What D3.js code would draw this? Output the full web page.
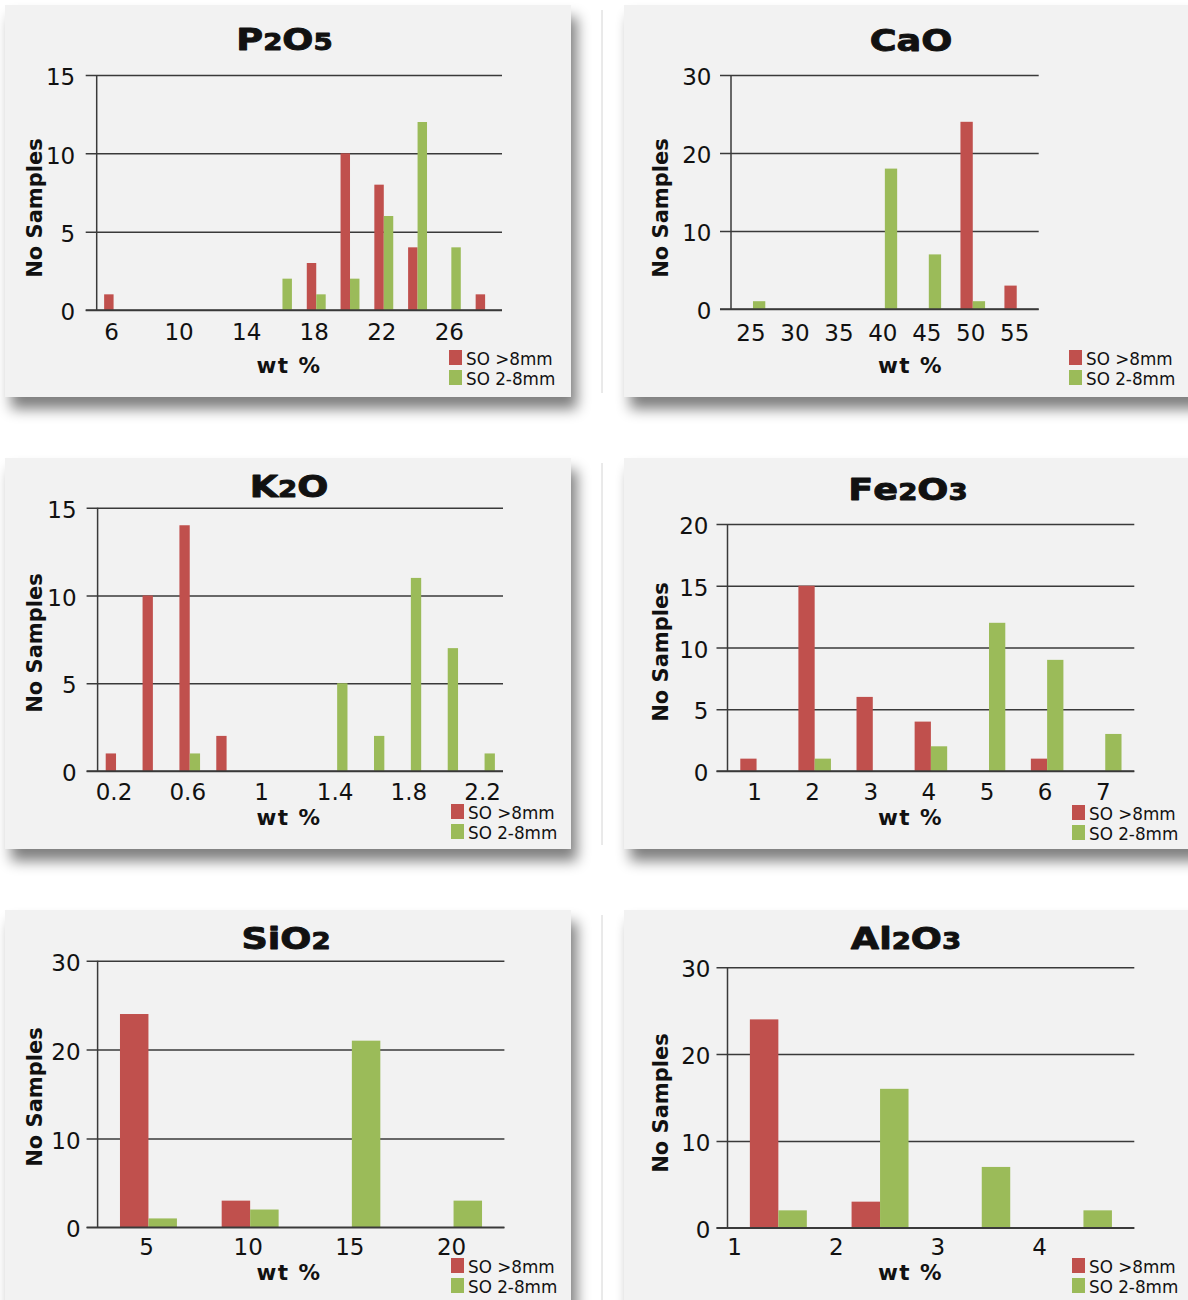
<!DOCTYPE html>
<html>
<head>
<meta charset="utf-8">
<script src="https://cdn.jsdelivr.net/npm/d3@7"></script>
<style>
  html, body { margin: 0; padding: 0; background: #ffffff; }
  svg { display: block; }
</style>
</head>
<body>
<svg id="chart" width="1188" height="1300"></svg>
<script>
// ---- Series ----
const seriesNames = ["SO >8mm", "SO 2-8mm"];
const seriesColors = ["#c0504d", "#9bbb59"];

// ---- P2O5 ----
const p2o5Bins   = ["6", "8", "10", "12", "14", "16", "18", "20", "22", "24", "26", "28"];
const p2o5Coarse = [1, 0, 0, 0, 0, 0, 3, 10, 8, 4, 0, 1];
const p2o5Fine   = [0, 0, 0, 0, 0, 2, 1, 2, 6, 12, 4, 0];
const p2o5Labels = ["6", "10", "14", "18", "22", "26"];
const p2o5Ticks  = [0, 5, 10, 15];

// ---- CaO ----
const caoBins   = ["25", "30", "35", "40", "45", "50", "55"];
const caoCoarse = [0, 0, 0, 0, 0, 24, 3];
const caoFine   = [1, 0, 0, 18, 7, 1, 0];
const caoLabels = ["25", "30", "35", "40", "45", "50", "55"];
const caoTicks  = [0, 10, 20, 30];

// ---- K2O ----
const k2oBins   = ["0.2", "0.4", "0.6", "0.8", "1", "1.2", "1.4", "1.6", "1.8", "2", "2.2"];
const k2oCoarse = [1, 10, 14, 2, 0, 0, 0, 0, 0, 0, 0];
const k2oFine   = [0, 0, 1, 0, 0, 0, 5, 2, 11, 7, 1];
const k2oLabels = ["0.2", "0.6", "1", "1.4", "1.8", "2.2"];
const k2oTicks  = [0, 5, 10, 15];

// ---- Fe2O3 ----
const fe2o3Bins   = ["1", "2", "3", "4", "5", "6", "7"];
const fe2o3Coarse = [1, 15, 6, 4, 0, 1, 0];
const fe2o3Fine   = [0, 1, 0, 2, 12, 9, 3];
const fe2o3Labels = ["1", "2", "3", "4", "5", "6", "7"];
const fe2o3Ticks  = [0, 5, 10, 15, 20];

// ---- SiO2 ----
const sio2Bins   = ["5", "10", "15", "20"];
const sio2Coarse = [24, 3, 0, 0];
const sio2Fine   = [1, 2, 21, 3];
const sio2Labels = ["5", "10", "15", "20"];
const sio2Ticks  = [0, 10, 20, 30];

// ---- Al2O3 ----
const al2o3Bins   = ["1", "2", "3", "4"];
const al2o3Coarse = [24, 3, 0, 0];
const al2o3Fine   = [2, 16, 7, 2];
const al2o3Labels = ["1", "2", "3", "4"];
const al2o3Ticks  = [0, 10, 20, 30];

// Panel placement on the page (card origin, plot box, text anchors)
const panels = [
  { title: "P2O5", bins: p2o5Bins, coarse: p2o5Coarse, fine: p2o5Fine, labels: p2o5Labels, ticks: p2o5Ticks,
    card: [5, 5, 566, 392], plot: [96.7, 75, 502, 310], titlePos: [284.5, 50],
    yTitle: [41.5, 208], xTitle: [289, 373], legend: [449, 350], yGap: 21.5, xDy: 29.5, edgeLabels: false },
  { title: "CaO", bins: caoBins, coarse: caoCoarse, fine: caoFine, labels: caoLabels, ticks: caoTicks,
    card: [624, 5, 600, 392], plot: [731, 75, 1038.7, 309], titlePos: [911, 51],
    yTitle: [667.5, 208], xTitle: [910.5, 373], legend: [1069, 350], yGap: 19.5, xDy: 32, edgeLabels: false },
  { title: "K2O", bins: k2oBins, coarse: k2oCoarse, fine: k2oFine, labels: k2oLabels, ticks: k2oTicks,
    card: [5, 458, 566, 391], plot: [97.6, 507.7, 503, 771], titlePos: [289, 497],
    yTitle: [41.5, 643], xTitle: [289, 825], legend: [451, 804], yGap: 21, xDy: 29, edgeLabels: false },
  { title: "Fe2O3", bins: fe2o3Bins, coarse: fe2o3Coarse, fine: fe2o3Fine, labels: fe2o3Labels, ticks: fe2o3Ticks,
    card: [624, 458, 600, 391], plot: [727.5, 524, 1134.3, 771], titlePos: [908, 500],
    yTitle: [667.5, 652], xTitle: [910.5, 825], legend: [1072, 805], yGap: 19, xDy: 29, edgeLabels: false },
  { title: "SiO2", bins: sio2Bins, coarse: sio2Coarse, fine: sio2Fine, labels: sio2Labels, ticks: sio2Ticks,
    card: [5, 910, 566, 420], plot: [97.6, 960.7, 504.4, 1227.3], titlePos: [286, 949],
    yTitle: [41.5, 1097], xTitle: [289, 1280], legend: [451, 1258], yGap: 17, xDy: 27.5, edgeLabels: false },
  { title: "Al2O3", bins: al2o3Bins, coarse: al2o3Coarse, fine: al2o3Fine, labels: al2o3Labels, ticks: al2o3Ticks,
    card: [624, 910, 600, 420], plot: [727.5, 967.3, 1134.3, 1227.7], titlePos: [906, 949],
    yTitle: [667.5, 1103], xTitle: [910.5, 1280], legend: [1072, 1258], yGap: 17, xDy: 27, edgeLabels: true }
];

const FONT = "'DejaVu Sans', Verdana, sans-serif";
const INK = "#111111";
const GRID = "#3a3a3a";

const svg = d3.select("#chart");

const defs = svg.append("defs");
defs.append("filter")
  .attr("id", "cardShadow")
  .attr("x", "-10%").attr("y", "-10%").attr("width", "125%").attr("height", "130%")
  .append("feGaussianBlur").attr("stdDeviation", 7);

svg.append("rect").attr("width", 1188).attr("height", 1300).attr("fill", "#ffffff");

// faint frame line along the left of the right-hand column
panels.filter(p => p.card[0] > 600).forEach(p => {
  svg.append("line")
    .attr("x1", 602).attr("x2", 602)
    .attr("y1", p.card[1] + 5).attr("y2", Math.min(p.card[1] + p.card[3] - 4, 1300))
    .attr("stroke", "#d4d4d4").attr("stroke-width", 1);
});

function drawPanel(p) {
  const g = svg.append("g").attr("class", "panel");
  const [cx, cy, cw, ch] = p.card;

  // lifted card with soft drop shadow
  g.append("rect")
    .attr("x", cx + 6).attr("y", cy + 12).attr("width", cw).attr("height", ch)
    .attr("fill", "#000").attr("opacity", 0.5)
    .attr("filter", "url(#cardShadow)");
  g.append("rect")
    .attr("x", cx).attr("y", cy).attr("width", cw).attr("height", ch)
    .attr("fill", "#f2f2f2");

  const [x0, y0, x1, y1] = p.plot;
  const w = x1 - x0;

  const x = d3.scaleBand().domain(p.bins).range([x0, x1]).paddingInner(0).paddingOuter(0);
  const y = d3.scaleLinear().domain([0, d3.max(p.ticks)]).range([y1, y0]);
  const barW = x.bandwidth() * 0.28;

  // horizontal gridlines + value labels
  const yAxis = d3.axisLeft(y)
    .tickValues(p.ticks)
    .tickSizeInner(-(w + 11))
    .tickSizeOuter(0)
    .tickPadding(p.yGap - 11)
    .tickFormat(d3.format("d"));
  const ga = g.append("g")
    .attr("transform", `translate(${x0 - 11},0)`)
    .call(yAxis);
  ga.select(".domain").remove();
  ga.attr("font-family", FONT).attr("font-size", 23);
  ga.selectAll(".tick line").attr("stroke", GRID).attr("stroke-width", 1.5);
  ga.selectAll(".tick text").attr("fill", INK).attr("dy", "0.42em");

  // bars: coarse fraction left of the bin centre, fine fraction right of it
  const rows = p.bins.map((b, i) => ({ bin: b, coarse: p.coarse[i], fine: p.fine[i] }));
  const series = [
    { key: "coarse", color: seriesColors[0], offset: -barW },
    { key: "fine", color: seriesColors[1], offset: 0 }
  ];
  series.forEach(s => {
    g.append("g").selectAll("rect")
      .data(rows.filter(r => r[s.key] > 0))
      .join("rect")
      .attr("x", r => x(r.bin) + x.bandwidth() / 2 + s.offset)
      .attr("y", r => y(r[s.key]))
      .attr("width", barW)
      .attr("height", r => y(0) - y(r[s.key]))
      .attr("fill", s.color);
  });

  // axis lines drawn over the bars
  g.append("line")
    .attr("x1", x0 - 11).attr("x2", x1)
    .attr("y1", y(0)).attr("y2", y(0))
    .attr("stroke", GRID).attr("stroke-width", 1.5);
  g.append("line")
    .attr("x1", x0).attr("x2", x0)
    .attr("y1", y(d3.max(p.ticks))).attr("y2", y(0))
    .attr("stroke", GRID).attr("stroke-width", 1.5);

  // category labels
  g.append("g").selectAll("text")
    .data(p.labels)
    .join("text")
    .attr("x", d => p.edgeLabels ? x(d) + 7 : x(d) + x.bandwidth() / 2 - 2)
    .attr("y", y(0) + p.xDy)
    .attr("text-anchor", "middle")
    .attr("font-family", FONT)
    .attr("font-size", 23)
    .attr("fill", INK)
    .text(d => d);

  // panel title with small numerals for the formula
  const t = g.append("text")
    .attr("transform", `translate(${p.titlePos[0]},${p.titlePos[1]}) scale(1.2,1)`)
    .attr("text-anchor", "middle")
    .attr("font-family", FONT)
    .attr("font-weight", "bold")
    .attr("fill", INK)
    .attr("stroke", INK)
    .attr("stroke-width", 0.9)
    .attr("stroke-linejoin", "round");
  p.title.split("").forEach(ch => {
    t.append("tspan")
      .attr("font-size", /\d/.test(ch) ? 23 : 30.5)
      .text(ch);
  });

  // axis titles
  g.append("text")
    .attr("transform", `translate(${p.yTitle[0]},${p.yTitle[1]}) rotate(-90)`)
    .attr("text-anchor", "middle")
    .attr("font-family", FONT)
    .attr("font-weight", "bold")
    .attr("font-size", 21)
    .attr("fill", INK)
    .text("No Samples");
  g.append("text")
    .attr("x", p.xTitle[0]).attr("y", p.xTitle[1])
    .attr("text-anchor", "middle")
    .attr("font-family", FONT)
    .attr("font-weight", "bold")
    .attr("font-size", 21.5)
    .attr("letter-spacing", 1.5)
    .attr("fill", INK)
    .text("wt %");

  // legend
  const lg = g.append("g").attr("transform", `translate(${p.legend[0]},${p.legend[1]})`);
  seriesNames.forEach((name, i) => {
    lg.append("rect")
      .attr("x", 0).attr("y", i * 20)
      .attr("width", 13).attr("height", 15)
      .attr("fill", seriesColors[i]);
    lg.append("text")
      .attr("x", 17).attr("y", i * 20 + 15)
      .attr("font-family", FONT)
      .attr("font-size", 16.8)
      .attr("fill", INK)
      .text(name);
  });
}

panels.forEach(drawPanel);
</script>
</body>
</html>
